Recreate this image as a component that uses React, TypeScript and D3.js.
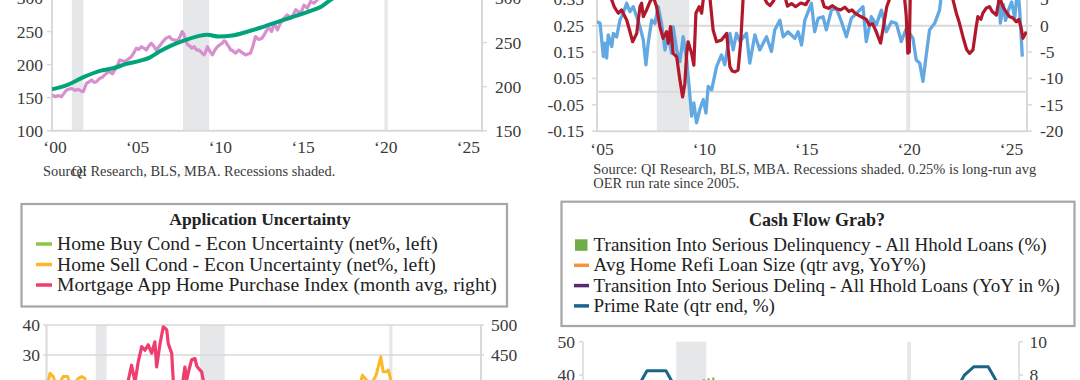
import React from "react";
import * as d3 from "d3";

const FONT = "'Liberation Serif', 'Times New Roman', serif";
const TEXT = "#3a3a3a";
const AXIS = "#d9d9d9";
const SHADE = "#e6e7e9";

type Pt = [number, number];

const recessions: Pt[] = [[2001.2, 2001.9], [2007.92, 2009.5], [2020.1, 2020.3]];

// ---------- Panel 1 (top-left) ----------
const p1XTicks = [2000, 2005, 2010, 2015, 2020, 2025];
const p1LeftTicks = [100, 150, 200, 250, 300];
const p1RightTicks = [150, 200, 250, 300];
const p1Green: Pt[] = [
  [2000.0, 162.7], [2000.9, 169], [2001.9, 181], [2002.9, 190.5], [2003.7, 194.5], [2004.5, 201],
  [2005.3, 205.6], [2005.9, 210.6], [2006.5, 219.7], [2007.3, 229.8], [2008.1, 237.4], [2008.9, 243.5],
  [2009.4, 245], [2010.1, 242.4], [2010.9, 244], [2011.7, 249], [2012.5, 255], [2013.1, 260],
  [2014.3, 270], [2015.5, 280], [2016.3, 288], [2016.85, 298], [2017.5, 308], [2018.5, 322],
  [2019.5, 336], [2020.5, 348], [2021.5, 360], [2022.5, 382], [2023.5, 405], [2024.5, 425], [2025.7, 440],
];
const p1Pink: Pt[] = [
  [2000.0, 154], [2000.18, 151.5], [2000.4, 153], [2000.58, 151.5], [2000.88, 161.7], [2001.18, 164],
  [2001.4, 161], [2001.59, 162.7], [2001.75, 160], [2001.89, 159], [2002.09, 171.8], [2002.25, 174],
  [2002.39, 176.8], [2002.55, 173], [2002.69, 174], [2002.89, 179.4], [2003.05, 181], [2003.19, 184.4],
  [2003.35, 188], [2003.49, 189.4], [2003.65, 186], [2003.8, 192], [2003.95, 198], [2004.1, 207],
  [2004.25, 206], [2004.4, 204.5], [2004.6, 208], [2004.8, 212], [2004.95, 218], [2005.1, 224.8],
  [2005.25, 223], [2005.4, 227], [2005.55, 225], [2005.7, 222], [2005.85, 228], [2006.0, 232.4],
  [2006.15, 228], [2006.3, 222], [2006.5, 228], [2006.7, 234.8], [2006.9, 240], [2007.1, 242.4],
  [2007.25, 238], [2007.4, 237.4], [2007.55, 236], [2007.7, 240], [2007.87, 250], [2007.97, 246],
  [2008.07, 237.4], [2008.2, 230], [2008.3, 229], [2008.45, 225], [2008.6, 227], [2008.75, 222],
  [2008.9, 222], [2009.05, 218], [2009.2, 214.7], [2009.3, 220], [2009.4, 227], [2009.55, 220],
  [2009.7, 214.7], [2009.85, 222], [2010.0, 227], [2010.15, 230], [2010.3, 232.4], [2010.4, 236],
  [2010.5, 234.8], [2010.6, 230], [2010.7, 227], [2010.8, 222], [2010.9, 222], [2011.0, 219],
  [2011.1, 217.3], [2011.2, 220], [2011.3, 222], [2011.5, 218], [2011.7, 214.7], [2011.85, 216],
  [2012.0, 217.3], [2012.15, 228], [2012.3, 242.4], [2012.5, 238], [2012.7, 240], [2012.85, 246],
  [2013.0, 252.6], [2013.13, 255], [2013.28, 250], [2013.43, 262.7], [2013.63, 252.6], [2013.8, 262],
  [2013.93, 267.7], [2014.1, 272], [2014.23, 275], [2014.44, 270], [2014.6, 276], [2014.74, 283],
  [2014.9, 280], [2015.04, 278], [2015.24, 290], [2015.44, 285.5], [2015.64, 295.5], [2015.84, 293],
  [2016.04, 298], [2016.3, 306], [2016.6, 312], [2017.0, 318], [2018.0, 332], [2019.0, 346],
  [2020.0, 360], [2021.0, 385], [2022.0, 415], [2023.0, 438], [2024.0, 450], [2025.7, 462],
];

// ---------- Panel 2 (top-right) ----------
const p2XTicks = [2005, 2010, 2015, 2020, 2025];
const p2LeftTicks = [-0.15, -0.05, 0.05, 0.15, 0.25, 0.35];
const p2RightTicks = [-20, -15, -10, -5, 0, 5];
const p2RefLines = [0, 0.25];
const p2Blue: Pt[] = [
  [2005.0, 0.265], [2005.15, 0.259], [2005.31, 0.133], [2005.39, 0.184], [2005.47, 0.127], [2005.55, 0.215],
  [2005.72, 0.171], [2005.8, 0.221], [2005.96, 0.208], [2006.12, 0.271], [2006.28, 0.297], [2006.45, 0.335],
  [2006.61, 0.303], [2006.77, 0.322], [2006.94, 0.284], [2007.1, 0.246], [2007.26, 0.196], [2007.39, 0.102],
  [2007.5, 0.184], [2007.67, 0.271], [2007.83, 0.259], [2007.99, 0.322], [2008.15, 0.259], [2008.32, 0.158],
  [2008.48, 0.221], [2008.64, 0.146], [2008.72, 0.246], [2008.89, 0.158], [2009.05, 0.114], [2009.21, 0.208],
  [2009.38, 0.12], [2009.54, -0.018], [2009.62, -0.093], [2009.73, -0.043], [2009.86, -0.118], [2010.02, -0.068],
  [2010.19, -0.03], [2010.32, -0.081], [2010.43, 0.02], [2010.6, 0.007], [2010.84, 0.095], [2011.08, 0.139],
  [2011.24, 0.102], [2011.49, 0.221], [2011.65, 0.158], [2011.81, 0.221], [2011.98, 0.19], [2012.3, 0.221],
  [2012.46, 0.108], [2012.71, 0.215], [2012.95, 0.158], [2013.28, 0.208], [2013.52, 0.152], [2013.68, 0.234],
  [2013.93, 0.271], [2014.09, 0.208], [2014.33, 0.227], [2014.66, 0.202], [2014.82, 0.227], [2014.99, 0.177],
  [2015.15, 0.271], [2015.47, 0.335], [2015.63, 0.227], [2015.8, 0.278], [2016.04, 0.284], [2016.2, 0.234],
  [2016.45, 0.309], [2016.69, 0.316], [2016.94, 0.265], [2017.18, 0.208], [2017.42, 0.278], [2017.75, 0.303],
  [2017.99, 0.322], [2018.15, 0.19], [2018.4, 0.284], [2018.64, 0.253], [2018.89, 0.309], [2019.13, 0.227],
  [2019.38, 0.265], [2019.62, 0.259], [2019.86, 0.19], [2020.11, 0.24], [2020.43, 0.202], [2020.59, 0.12],
  [2020.76, 0.108], [2020.92, 0.039], [2021.08, 0.139], [2021.24, 0.234], [2021.49, 0.259], [2021.73, 0.309],
  [2021.9, 0.42], [2022.2, 0.55], [2022.6, 0.65], [2023.0, 0.7], [2023.4, 0.55], [2023.8, 0.48],
  [2024.2, 0.42], [2024.5, 0.38], [2024.62, 0.36], [2024.7, 0.26], [2024.85, 0.33], [2024.95, 0.27],
  [2025.1, 0.31], [2025.25, 0.34], [2025.4, 0.28], [2025.55, 0.4], [2025.65, 0.3], [2025.77, 0.133],
];
const p2Red: Pt[] = [
  [2005.5, 6], [2005.72, 4.9], [2005.85, 3.5], [2006.04, 2.36], [2006.2, 2.98], [2006.45, 1.08],
  [2006.61, -1.14], [2006.74, -3.04], [2006.94, -1.45], [2007.1, 3.61], [2007.18, 4.26], [2007.26, 1.71],
  [2007.42, 2.98], [2007.59, 4.57], [2007.75, 5.5], [2007.91, 3.61], [2008.07, -0.19], [2008.23, -2.4],
  [2008.4, -1.14], [2008.48, -3.35], [2008.59, -0.19], [2008.72, -5.25], [2008.89, -5.89], [2009.05, -10.3],
  [2009.18, -13.5], [2009.29, -10.95], [2009.38, -5.25], [2009.45, -3.04], [2009.62, -5.25], [2009.73, -7.47],
  [2009.83, 2.36], [2009.99, 3.61], [2010.11, 2.36], [2010.22, 6], [2010.4, 7], [2010.51, 5.5],
  [2010.67, -0.82], [2010.84, -3.04], [2011.08, -2.72], [2011.33, -1.45], [2011.49, -7.79], [2011.6, -8.6],
  [2011.73, -8.74], [2011.89, -8.42], [2012.02, -3.04], [2012.14, 5.5], [2012.5, 7], [2013.0, 6.5],
  [2013.3, 4.3], [2013.45, 3.8], [2013.6, 4.6], [2013.8, 6], [2014.2, 5.2], [2014.3, 3.7],
  [2014.5, 4.2], [2014.7, 3.6], [2014.95, 4.3], [2015.2, 4], [2015.4, 5.3], [2015.7, 6],
  [2016.0, 4.9], [2016.1, 3.6], [2016.3, 3.3], [2016.5, 3.8], [2016.7, 3.2], [2016.9, 3.0],
  [2017.1, 3.5], [2017.3, 2.7], [2017.45, 3.0], [2017.6, 2.4], [2017.8, 1.9], [2017.95, 1.6],
  [2018.15, 1.2], [2018.3, 0.1], [2018.45, 0.4], [2018.6, -0.8], [2018.85, -3.3], [2019.0, 0.1],
  [2019.15, 3.6], [2019.33, 5.5], [2019.7, 7], [2020.0, 6], [2020.1, 2], [2020.18, -5.2],
  [2020.25, -5.0], [2020.3, 6], [2020.8, 9], [2021.5, 10], [2022.0, 8], [2022.38, 5.0],
  [2022.55, 2.36], [2022.7, 0.5], [2022.87, -2.09], [2023.05, -4.5], [2023.2, -5.25], [2023.36, -4.6],
  [2023.52, -0.19], [2023.6, 1.71], [2023.75, 1.2], [2023.84, 2.36], [2024.0, 3.3], [2024.17, 3.61],
  [2024.3, 2.7], [2024.5, 2.0], [2024.66, 5.5], [2024.82, 3.61], [2025.0, 2.5], [2025.15, 1.71],
  [2025.3, 1.5], [2025.47, 0.75], [2025.6, 1.2], [2025.72, -0.5], [2025.8, -2.4], [2025.97, -1.14],
];

// ---------- Panel 3 (bottom-left) ----------
const p3Title = "Application Uncertainty";
const p3Labels = [
  "Home Buy Cond - Econ Uncertainty (net%, left)",
  "Home Sell Cond - Econ Uncertainty (net%, left)",
  "Mortgage App Home Purchase Index (month avg, right)",
];
const p3Colors = ["#8dc63f", "#fdb827", "#ef3e6e"];
const p3LeftTicks = [20, 30, 40];
const p3RightTicks = [400, 450, 500];
const p3Green: Pt[] = [
  [1998.0, 8], [2000.0, 10], [2001.5, 13], [2003.0, 8], [2005.0, 6], [2008.5, 15], [2010.0, 11],
  [2012.0, 9], [2014.0, 7], [2016.0, 6], [2018.0, 8], [2020.2, 16], [2022.0, 12], [2024.0, 14], [2025.7, 17],
];
const p3Orange: Pt[] = [
  [1998.0, 18], [1998.26, 23.9], [1998.47, 22.8], [1998.7, 19], [1999.1, 22.8], [1999.4, 22.8],
  [1999.6, 19], [2000.08, 22.2], [2000.3, 22.8], [2000.5, 22.2], [2000.7, 18], [2001.5, 15],
  [2003.0, 12], [2008.0, 16], [2012.0, 11], [2016.0, 10], [2018.0, 16], [2018.2, 20],
  [2018.37, 23.3], [2018.6, 21.8], [2018.9, 20], [2019.25, 23.3], [2019.55, 29.4], [2019.7, 24.4],
  [2019.93, 24.4], [2020.04, 25], [2020.2, 21.5], [2020.4, 19], [2021.0, 14], [2023.0, 12], [2025.7, 16],
];
const p3Pink: Pt[] = [
  [1998.0, 300], [2000.0, 310], [2001.0, 330], [2002.0, 360], [2002.8, 380], [2003.1, 395],
  [2003.3, 408], [2003.51, 433], [2003.73, 405], [2003.94, 439], [2004.16, 464], [2004.37, 458],
  [2004.58, 467], [2004.8, 453], [2005.01, 472], [2005.12, 430], [2005.34, 469], [2005.55, 497],
  [2005.65, 495], [2005.77, 492], [2005.87, 469], [2006.09, 453], [2006.19, 408], [2006.4, 395],
  [2006.6, 390], [2006.8, 405], [2006.94, 430], [2007.05, 408], [2007.2, 425], [2007.37, 442],
  [2007.59, 444], [2007.7, 432], [2007.8, 428], [2008.02, 422], [2008.12, 408], [2008.4, 380],
  [2009.0, 330], [2010.0, 250], [2012.0, 190], [2015.0, 210], [2018.0, 250], [2020.5, 310],
  [2022.0, 260], [2023.5, 160], [2025.7, 165],
];

// ---------- Panel 4 (bottom-right) ----------
const p4Title = "Cash Flow Grab?";
const p4Labels = [
  "Transition Into Serious Delinquency - All Hhold Loans (%)",
  "Avg Home Refi Loan Size (qtr avg, YoY%)",
  "Transition Into Serious Delinq - All Hhold Loans (YoY in %)",
  "Prime Rate (qtr end, %)",
];
const p4Colors = ["#70ad47", "#f7923a", "#5b2a6e", "#1a6688"];
const p4LeftTicks = [40, 50];
const p4RightTicks = [8, 10];
const p4FirstYear = 2003;
const p4Delinq = [
  3.6, 3.5, 3.4, 3.3, 3.2, 3.1, 3.0, 3.0, 3.0, 2.9, 3.0, 3.1, 3.1, 3.2, 3.4, 3.6,
  3.9, 4.3, 4.8, 5.3, 5.8, 6.3, 6.7, 7.1, 7.3, 7.75, 7.8, 7.85, 7.4, 7.0, 6.6, 6.2,
  5.8, 5.5, 5.2, 5.0, 4.8, 4.6, 4.4, 4.2, 4.0, 3.9, 3.8, 3.7, 3.6, 3.5, 3.4, 3.4,
  3.3, 3.3, 3.2, 3.2, 3.1, 3.1, 3.1, 3.1, 3.1, 3.1, 3.1, 3.1, 3.1, 3.1, 3.1, 3.1,
  3.1, 3.1, 3.1, 3.1, 3.0, 2.7, 2.3, 2.0, 1.8, 1.6, 1.5, 1.5, 1.6, 1.8, 2.0, 2.3,
  2.5, 2.7, 3.0, 3.2, 3.3, 3.4, 3.5, 3.5, 3.5, 3.6,
];
const p4Prime = [
  4.25, 4.0, 4.0, 4.0, 4.0, 4.25, 4.75, 5.25, 5.75, 6.25, 6.75, 7.25, 7.75, 8.25, 8.25, 8.25,
  8.25, 8.25, 7.75, 7.25, 5.25, 5.0, 5.0, 3.25, 3.25, 3.25, 3.25, 3.25, 3.25, 3.25, 3.25, 3.25,
  3.25, 3.25, 3.25, 3.25, 3.25, 3.25, 3.25, 3.25, 3.25, 3.25, 3.25, 3.25, 3.25, 3.25, 3.25, 3.25,
  3.25, 3.25, 3.25, 3.5, 3.5, 3.5, 3.5, 3.75, 4.0, 4.25, 4.25, 4.5, 4.75, 5.0, 5.25, 5.5,
  5.5, 5.5, 5.0, 4.75, 3.25, 3.25, 3.25, 3.25, 3.25, 3.25, 3.25, 3.25, 3.5, 4.75, 6.25, 7.5,
  8.0, 8.25, 8.5, 8.5, 8.5, 8.5, 8.0, 7.5, 7.5, 7.5, 7.25,
];
const p4Refi: Pt[] = [
  [2003.1, 8], [2005.0, 12], [2007.0, 6], [2009.0, -4], [2011.0, 2], [2013.0, 5], [2015.0, 9],
  [2017.0, 4], [2019.0, 6], [2021.0, 14], [2022.5, 3], [2024.0, 10], [2025.5, 12],
];
const p4DelinqYoY: Pt[] = [
  [2003.1, -5], [2005.0, -8], [2007.0, 20], [2008.5, 32], [2010.5, -10], [2012.0, -18], [2014.0, -10],
  [2016.0, -3], [2018.0, 0], [2020.5, -20], [2021.5, -30], [2023.0, 25], [2024.5, 10], [2025.5, 5],
];

const yrLabel = (y: number) => "\u2018" + String(y % 100).padStart(2, "0");

// text widened horizontally to approximate the reference's wider serif face
function WText({ x, y, sx, size, children, fill = TEXT, weight, anchor }: {
  x: number; y: number; sx: number; size: number; children: React.ReactNode; fill?: string; weight?: string; anchor?: string;
}) {
  return (
    <text transform={`translate(${x},${y}) scale(${sx},1)`} fontSize={size} fill={fill} fontWeight={weight} textAnchor={anchor}>
      {children}
    </text>
  );
}

function Shades({ x, top, bottom }: { x: d3.ScaleLinear<number, number>; top: number; bottom: number }) {
  const [d0, d1] = x.domain();
  return (
    <g>
      {recessions
        .filter((r) => r[1] > d0 && r[0] < d1)
        .map((r, i) => (
          <rect key={i} x={x(Math.max(r[0], d0))} y={top} width={x(r[1]) - x(Math.max(r[0], d0))} height={bottom - top} fill={SHADE} />
        ))}
    </g>
  );
}

function YTicks({ ticks, y, x0, x1, lx, anchor, fmt }: {
  ticks: number[]; y: d3.ScaleLinear<number, number>; x0: number; x1: number; lx: number; anchor: "start" | "end"; fmt: (v: number) => string;
}) {
  return (
    <g>
      {ticks.map((t) => (
        <g key={t}>
          <line x1={x0} x2={x1} y1={y(t)} y2={y(t)} stroke={AXIS} strokeWidth={1.5} />
          <text x={lx} y={y(t)} dy="0.34em" textAnchor={anchor} fontSize={17.5} fill={TEXT}>{fmt(t)}</text>
        </g>
      ))}
    </g>
  );
}

export default function App() {
  // Panel 1
  const x1 = d3.scaleLinear().domain([2000, 2026]).range([52, 482]);
  const y1L = d3.scaleLinear().domain([100, 300]).range([130.7, -1.5]);
  const y1R = d3.scaleLinear().domain([150, 300]).range([130.7, -1.5]);
  const line1 = d3.line<Pt>().x((d) => x1(d[0])).y((d) => y1L(d[1]));

  // Panel 2
  const x2 = d3.scaleLinear().domain([2005, 2026]).range([597, 1027]);
  const y2L = d3.scaleLinear().domain([-0.15, 0.25]).range([131.2, 25.7]);
  const y2R = d3.scaleLinear().domain([-20, 0]).range([131.2, 25.7]);
  const blueLine = d3.line<Pt>().x((d) => x2(d[0])).y((d) => y2L(d[1]));
  const redLine = d3.line<Pt>().x((d) => x2(d[0])).y((d) => y2R(d[1]));

  // Panel 3
  const x3 = d3.scaleLinear().domain([1998, 2026]).range([46, 481]);
  const y3L = d3.scaleLinear().domain([20, 40]).range([385, 325]);
  const y3R = d3.scaleLinear().domain([400, 500]).range([385, 325]);
  const line3L = d3.line<Pt>().x((d) => x3(d[0])).y((d) => y3L(d[1]));
  const line3R = d3.line<Pt>().x((d) => x3(d[0])).y((d) => y3R(d[1]));

  // Panel 4
  const x4 = d3.scaleLinear().domain([2003, 2026]).range([583, 1019]);
  const y4L = d3.scaleLinear().domain([40, 50]).range([375, 341.7]);
  const y4R = d3.scaleLinear().domain([8, 10]).range([375, 341.7]);
  const line4L = d3.line<Pt>().x((d) => x4(d[0])).y((d) => y4L(d[1]));
  const qx = (i: number) => x4(p4FirstYear + i * 0.25 + 0.125);
  const primeLine = d3.line<number>().x((_, i) => qx(i)).y((d) => y4R(d));

  return (
    <svg width={1080} height={380} style={{ position: "absolute", left: 0, top: 0, background: "#fff" }} fontFamily={FONT}>
      <defs>
        <clipPath id="c1"><rect x={52} y={-20} width={430} height={152} /></clipPath>
        <clipPath id="c2"><rect x={597} y={-20} width={430} height={152} /></clipPath>
        <clipPath id="c3"><rect x={46} y={322} width={435} height={80} /></clipPath>
        <clipPath id="c4"><rect x={583} y={338} width={436} height={60} /></clipPath>
      </defs>

      {/* ===== Panel 1 ===== */}
      <Shades x={x1} top={-2} bottom={130.7} />
      <line x1={52} x2={52} y1={-2} y2={131.5} stroke={AXIS} strokeWidth={2} />
      <line x1={482} x2={482} y1={-2} y2={131.5} stroke={AXIS} strokeWidth={2} />
      <line x1={51} x2={483} y1={130.7} y2={130.7} stroke={AXIS} strokeWidth={2} />
      <YTicks ticks={p1LeftTicks} y={y1L} x0={47} x1={52} lx={43} anchor="end" fmt={(v) => String(v)} />
      <YTicks ticks={p1RightTicks} y={y1R} x0={482} x1={487} lx={495} anchor="start" fmt={(v) => String(v)} />
      {p1XTicks.map((t) => (
        <text key={t} x={x1(t) + 3} y={153} textAnchor="middle" fontSize={17.5} fill={TEXT}>{yrLabel(t)}</text>
      ))}
      <g clipPath="url(#c1)">
        <path d={line1(p1Pink) || ""} fill="none" stroke="#d78fd0" strokeWidth={3.2} strokeLinejoin="round" />
        <path d={line1.curve(d3.curveMonotoneX)(p1Green) || ""} fill="none" stroke="#00a37a" strokeWidth={4} strokeLinejoin="round" />
      </g>
      <WText x={43} y={176} sx={1.06} size={13.6}>Source:</WText>
      <WText x={71.7} y={176} sx={1.06} size={13.6}>QI Research, BLS, MBA. Recessions shaded.</WText>

      {/* ===== Panel 2 ===== */}
      <Shades x={x2} top={-2} bottom={131.2} />
      {p2RefLines.map((v) => (
        <line key={v} x1={597} x2={1027} y1={y2L(v)} y2={y2L(v)} stroke={AXIS} strokeWidth={2} />
      ))}
      <line x1={597} x2={597} y1={-2} y2={132} stroke={AXIS} strokeWidth={2} />
      <line x1={1027} x2={1027} y1={-2} y2={132} stroke={AXIS} strokeWidth={2} />
      <line x1={596} x2={1028} y1={131.2} y2={131.2} stroke={AXIS} strokeWidth={2} />
      <YTicks ticks={p2LeftTicks} y={y2L} x0={592} x1={597} lx={584} anchor="end" fmt={(v) => d3.format(".2f")(v).replace("\u2212", "-")} />
      <YTicks ticks={p2RightTicks} y={y2R} x0={1027} x1={1032} lx={1040} anchor="start" fmt={(v) => String(v)} />
      {p2XTicks.map((t) => (
        <text key={t} x={x2(t) + 5} y={155} textAnchor="middle" fontSize={17.5} fill={TEXT}>{yrLabel(t)}</text>
      ))}
      <g clipPath="url(#c2)">
        <path d={blueLine(p2Blue) || ""} fill="none" stroke="#62a8e2" strokeWidth={3.3} strokeLinejoin="round" />
        <path d={redLine(p2Red) || ""} fill="none" stroke="#b2182b" strokeWidth={3.2} strokeLinejoin="round" />
      </g>
      <WText x={593.3} y={174} sx={1.06} size={13.6}>Source: QI Research, BLS, MBA. Recessions shaded. 0.25% is long-run avg</WText>
      <WText x={593.3} y={188} sx={1.06} size={13.6}>OER run rate since 2005.</WText>

      {/* ===== Panel 3 ===== */}
      <rect x={21.5} y={204} width={485.5} height={102.5} fill="#fff" stroke="#a6a6a6" strokeWidth={2.2} />
      <text x={260} y={225} textAnchor="middle" fontSize={17.5} fontWeight="bold" fill="#222">{p3Title}</text>
      {p3Labels.map((l, i) => (
        <g key={l}>
          <line x1={36} x2={52} y1={244 + i * 20.5} y2={244 + i * 20.5} stroke={p3Colors[i]} strokeWidth={3.5} />
          <WText x={57} y={250 + i * 20.5} sx={1.06} size={18.5} fill="#222">{l}</WText>
        </g>
      ))}
      <Shades x={x3} top={325} bottom={400} />
      <YTicks ticks={p3LeftTicks} y={y3L} x0={43} x1={481} lx={40} anchor="end" fmt={(v) => String(v)} />
      <YTicks ticks={p3RightTicks} y={y3R} x0={481} x1={484} lx={491} anchor="start" fmt={(v) => String(v)} />
      <line x1={46.5} x2={46.5} y1={325} y2={400} stroke={AXIS} strokeWidth={2} />
      <line x1={481} x2={481} y1={325} y2={400} stroke={AXIS} strokeWidth={2} />
      <g clipPath="url(#c3)">
        <path d={line3L(p3Green) || ""} fill="none" stroke={p3Colors[0]} strokeWidth={3} />
        <path d={line3L(p3Orange) || ""} fill="none" stroke={p3Colors[1]} strokeWidth={3} strokeLinejoin="round" />
        <path d={line3R(p3Pink) || ""} fill="none" stroke={p3Colors[2]} strokeWidth={3.2} strokeLinejoin="round" />
      </g>

      {/* ===== Panel 4 ===== */}
      <rect x={561.5} y={201.7} width={513} height={124.3} fill="#fff" stroke="#a6a6a6" strokeWidth={2.2} />
      <text x={817} y={226} textAnchor="middle" fontSize={18} fontWeight="bold" fill="#222">{p4Title}</text>
      {p4Labels.map((l, i) => (
        <g key={l}>
          {i === 0 ? (
            <rect x={575} y={239.3} width={12.5} height={11.5} fill={p4Colors[0]} />
          ) : (
            <line x1={574} x2={589} y1={245 + i * 20.3} y2={245 + i * 20.3} stroke={p4Colors[i]} strokeWidth={3.5} />
          )}
          <WText x={593.6} y={251 + i * 20.3} sx={1.03} size={18.5} fill="#222">{l}</WText>
        </g>
      ))}
      <Shades x={x4} top={341.7} bottom={400} />
      <line x1={583} x2={583} y1={341.7} y2={400} stroke={AXIS} strokeWidth={1.5} />
      <line x1={1019} x2={1019} y1={341.7} y2={400} stroke={AXIS} strokeWidth={1.5} />
      <YTicks ticks={p4LeftTicks} y={y4L} x0={579} x1={583} lx={575} anchor="end" fmt={(v) => String(v)} />
      <YTicks ticks={p4RightTicks} y={y4R} x0={1019} x1={1023} lx={1029.6} anchor="start" fmt={(v) => String(v)} />
      <g clipPath="url(#c4)">
        {p4Delinq.map((v, i) => (
          <rect key={i} x={qx(i) - 1} y={y4R(v)} width={2} height={Math.max(0, 420 - y4R(v))} fill={p4Colors[0]} />
        ))}
        <path d={line4L(p4Refi) || ""} fill="none" stroke={p4Colors[1]} strokeWidth={3} />
        <path d={line4L(p4DelinqYoY) || ""} fill="none" stroke={p4Colors[2]} strokeWidth={3} />
        <path d={primeLine(p4Prime) || ""} fill="none" stroke={p4Colors[3]} strokeWidth={3} strokeLinejoin="round" />
      </g>
    </svg>
  );
}
